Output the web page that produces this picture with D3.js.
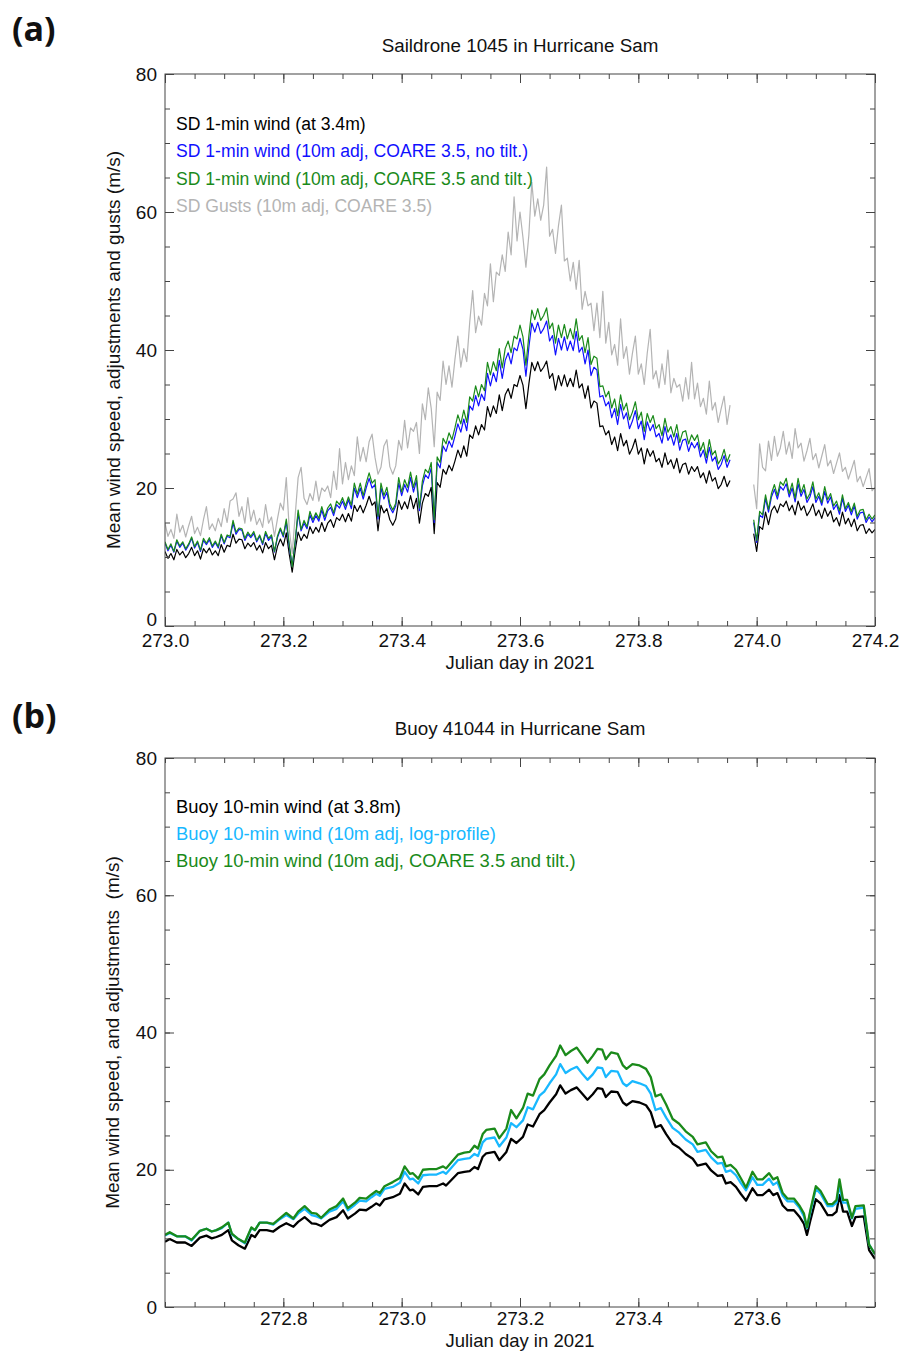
<!DOCTYPE html>
<html>
<head>
<meta charset="utf-8">
<script src="https://cdn.jsdelivr.net/npm/d3@7"></script>
<style>
  body { margin: 0; background: #fff; }
  text { font-family: "Liberation Sans", Helvetica, Arial, sans-serif; }
</style>
</head>
<body>
<svg id="fig" width="903" height="1351"></svg>
<script>
// ---- (a) Saildrone 1045, 1-min data, one value every 0.005 day from 273.000, null = gap
const sdStart = 273.0
const sdStep = 0.005
const sdRaw = [
  10.8, 9.8, 10.5, 9.6, 11.1, 10.3, 10.8, 9.9, 10.5, 11.4,
  10.2, 10.9, 9.7, 11.2, 10.6, 11.3, 10.3, 10.9, 10.2, 11.8,
  10.7, 11.7, 11.5, 13.3, 12.0, 12.6, 12.5, 11.2, 12.0, 11.5,
  12.1, 11.0, 11.7, 10.6, 12.1, 11.2, 11.7, 9.6, 11.5, 12.6,
  11.6, 13.5, 10.4, 7.8, 10.9, 13.6, 12.4, 13.3, 12.7, 14.4,
  13.4, 14.3, 13.6, 15.0, 13.7, 14.9, 15.4, 14.3, 15.7, 15.3,
  16.2, 15.1, 16.3, 15.2, 17.5, 16.6, 17.5, 16.4, 17.5, 18.8,
  17.5, 18.0, 13.8, 17.5, 16.4, 17.0, 15.4, 14.6, 15.5, 18.2,
  16.9, 18.0, 17.0, 18.9, 17.0, 18.5, 14.9, 17.8, 19.2, 18.8,
  20.1, 13.4, 20.8, 20.1, 22.7, 22.0, 23.3, 22.5, 23.9, 25.5,
  24.4, 26.1, 24.6, 27.7, 27.2, 29.0, 27.7, 29.2, 28.4, 31.8,
  30.3, 31.9, 30.8, 33.5, 31.2, 33.5, 34.4, 33.0, 35.0, 34.7,
  36.3, 34.9, 31.5, 35.1, 38.2, 37.0, 38.3, 36.9, 37.5, 38.4,
  35.9, 36.6, 34.2, 36.3, 34.8, 36.4, 34.7, 35.9, 34.7, 37.1,
  34.5, 35.1, 33.0, 34.8, 31.6, 32.6, 32.3, 28.9, 29.0, 27.7,
  28.3, 26.3, 27.4, 25.4, 27.9, 26.1, 26.9, 24.9, 25.8, 27.1,
  24.9, 25.8, 23.5, 25.7, 24.6, 25.4, 23.8, 24.3, 23.0, 25.1,
  23.4, 24.1, 22.8, 24.3, 22.2, 23.4, 23.6, 22.0, 23.1, 22.4,
  23.1, 21.5, 22.2, 20.7, 22.5, 21.0, 21.5, 19.9, 20.5, 21.7,
  20.2, 21.1,
  null, null, null, null, null, null, null,
  13.4, 10.8, 14.4, 14.0, 16.5, 14.7, 16.7, 17.4, 16.4, 17.7,
  17.3, 18.1, 16.7, 17.5, 16.1, 18.1, 16.8, 17.4, 16.0, 16.7,
  17.7, 16.0, 16.8, 15.6, 17.1, 15.9, 16.7, 15.1, 15.7, 14.5,
  16.5, 14.8, 15.6, 14.4, 15.5, 13.8, 14.6, 14.7, 13.4, 14.1,
  13.5, 14.0
]
const sdNoTilt = [
  12.0, 10.9, 11.7, 10.7, 12.3, 11.4, 12.0, 11.0, 11.7, 12.7,
  11.3, 12.1, 10.8, 12.4, 11.8, 12.5, 11.4, 12.1, 11.3, 13.1,
  11.9, 13.0, 12.8, 14.9, 13.3, 14.0, 13.9, 12.4, 13.3, 12.8,
  13.4, 12.2, 13.0, 11.8, 13.4, 12.4, 13.0, 10.7, 12.8, 14.0,
  12.9, 15.1, 11.5, 8.7, 12.1, 16.3, 13.8, 14.9, 14.1, 16.1,
  15.0, 16.0, 15.2, 16.8, 15.3, 16.7, 17.2, 16.0, 17.6, 17.1,
  18.1, 16.9, 18.3, 17.0, 20.0, 18.6, 20.0, 18.4, 20.0, 21.4,
  20.0, 20.5, 15.5, 20.0, 18.4, 19.4, 17.2, 16.4, 17.4, 20.7,
  18.9, 20.5, 19.4, 21.5, 19.4, 21.1, 16.7, 20.3, 21.9, 21.4,
  22.9, 15.0, 23.7, 22.9, 26.1, 25.3, 26.8, 25.9, 27.5, 29.3,
  28.1, 30.0, 28.3, 31.9, 31.3, 33.4, 31.9, 33.6, 32.7, 36.6,
  34.8, 36.7, 35.4, 38.5, 35.9, 38.5, 39.6, 38.0, 40.3, 39.9,
  41.7, 40.1, 36.2, 40.4, 43.9, 42.6, 44.0, 42.4, 43.1, 44.2,
  41.3, 42.1, 39.3, 41.7, 40.0, 41.9, 39.9, 41.3, 39.9, 42.7,
  39.7, 40.4, 38.0, 40.0, 36.3, 37.5, 37.1, 33.2, 33.4, 31.9,
  32.5, 30.2, 31.5, 29.2, 32.1, 30.0, 30.9, 28.6, 29.7, 31.2,
  28.6, 29.7, 27.0, 29.6, 28.3, 29.2, 27.4, 27.9, 26.5, 28.9,
  26.9, 27.7, 26.2, 27.9, 25.5, 26.9, 27.1, 25.3, 26.6, 25.8,
  26.6, 24.5, 25.5, 23.6, 25.9, 23.9, 24.5, 22.7, 23.4, 24.7,
  23.0, 24.1,
  null, null, null, null, null, null, null,
  15.0, 12.1, 16.1, 15.7, 18.5, 16.5, 18.7, 19.8, 18.4, 20.2,
  19.7, 20.6, 18.7, 20.0, 18.0, 20.6, 18.8, 19.8, 17.9, 18.7,
  20.2, 17.9, 18.8, 17.5, 19.5, 17.8, 18.7, 16.9, 17.6, 16.2,
  18.5, 16.6, 17.5, 16.1, 17.4, 15.5, 16.4, 16.5, 15.0, 15.8,
  15.1, 15.7
]
const sdTilt = [
  12.2, 11.1, 11.9, 10.8, 12.5, 11.6, 12.2, 11.2, 11.9, 12.9,
  11.5, 12.3, 11.0, 12.7, 12.0, 12.8, 11.6, 12.3, 11.5, 13.3,
  12.1, 13.2, 13.0, 15.3, 13.6, 14.2, 14.1, 12.7, 13.6, 13.0,
  13.7, 12.4, 13.2, 12.0, 13.7, 12.7, 13.2, 10.8, 13.0, 14.2,
  13.1, 15.5, 11.8, 8.6, 12.3, 16.8, 14.0, 15.3, 14.4, 16.6,
  15.4, 16.4, 15.6, 17.3, 15.8, 17.1, 17.7, 16.4, 18.1, 17.6,
  18.6, 17.4, 18.7, 17.5, 20.7, 19.1, 20.7, 18.9, 20.7, 22.2,
  20.7, 21.2, 15.9, 20.7, 18.9, 20.1, 17.7, 16.8, 17.8, 21.5,
  19.4, 21.2, 20.1, 22.3, 20.1, 21.8, 17.1, 21.0, 22.7, 22.2,
  23.7, 15.4, 24.5, 23.7, 27.2, 26.4, 28.0, 27.0, 28.7, 30.6,
  29.3, 31.3, 29.5, 33.2, 32.6, 34.8, 33.2, 35.0, 34.1, 38.2,
  36.4, 38.3, 37.0, 40.2, 37.4, 40.2, 41.3, 39.6, 42.0, 41.6,
  43.6, 41.9, 37.8, 42.1, 45.8, 44.4, 46.0, 44.3, 45.0, 46.1,
  43.1, 43.9, 41.0, 43.6, 41.8, 43.7, 41.6, 43.1, 41.6, 44.5,
  41.4, 42.1, 39.6, 41.8, 37.9, 39.1, 38.8, 34.7, 34.8, 33.2,
  34.0, 31.6, 32.9, 30.5, 33.5, 31.3, 32.3, 29.9, 31.0, 32.5,
  29.9, 31.0, 28.2, 30.8, 29.5, 30.5, 28.6, 29.2, 27.6, 30.1,
  28.1, 28.9, 27.4, 29.2, 26.6, 28.1, 28.3, 26.4, 27.7, 26.9,
  27.7, 25.4, 26.6, 24.4, 27.0, 24.8, 25.4, 23.5, 24.2, 25.6,
  23.8, 24.9,
  null, null, null, null, null, null, null,
  15.4, 12.4, 16.6, 16.1, 19.0, 16.9, 19.2, 20.5, 18.9, 20.9,
  20.4, 21.4, 19.2, 20.7, 18.5, 21.4, 19.3, 20.5, 18.4, 19.2,
  20.9, 18.4, 19.3, 17.9, 20.2, 18.3, 19.2, 17.4, 18.1, 16.7,
  19.0, 17.0, 17.9, 16.6, 17.8, 15.9, 16.8, 16.9, 15.4, 16.2,
  15.5, 16.1
]
const sdGust = [
  14.9, 13.0, 14.0, 12.7, 16.2, 13.6, 14.6, 12.9, 14.5, 15.9,
  13.4, 14.3, 13.1, 15.4, 17.3, 14.0, 14.8, 13.8, 15.6, 14.4,
  17.0, 15.0, 18.1, 18.4, 19.3, 15.9, 17.3, 14.9, 18.6, 15.2,
  16.8, 14.7, 15.6, 14.3, 17.6, 14.9, 15.8, 13.0, 15.5, 17.8,
  16.8, 21.5, 14.0, 10.5, 16.0, 21.5, 23.0, 18.5, 17.6, 19.2,
  18.2, 21.0, 18.1, 20.0, 19.5, 20.3, 18.6, 22.4, 19.8, 25.7,
  20.6, 23.7, 21.2, 23.2, 21.8, 27.4, 23.9, 25.9, 23.8, 26.7,
  27.8, 24.4, 22.0, 23.0, 26.1, 27.0, 23.1, 22.0, 23.2, 26.9,
  25.5, 29.8, 25.8, 28.7, 28.2, 29.5, 25.0, 32.2, 29.9, 34.5,
  31.5, 26.0, 33.9, 32.7, 38.4, 35.0, 37.7, 34.6, 38.6, 42.0,
  37.5, 40.2, 38.3, 44.0, 48.6, 42.5, 44.9, 43.6, 48.2, 46.4,
  52.5, 47.0, 51.3, 50.8, 53.8, 51.4, 57.1, 53.8, 62.2, 55.8,
  60.0, 56.3, 52.0, 56.7, 64.3, 59.4, 61.9, 58.8, 61.0, 66.5,
  56.5, 57.5, 54.0, 58.0, 61.0, 52.9, 53.3, 50.0, 52.7, 48.8,
  53.0, 45.9, 48.5, 46.4, 46.8, 42.8, 46.8, 41.8, 48.5, 41.0,
  44.0, 39.3, 40.8, 37.8, 44.5, 38.8, 40.5, 36.5, 39.5, 42.0,
  36.5, 38.0, 35.0, 39.5, 43.0, 35.8, 37.0, 34.5, 38.0, 35.0,
  40.0, 33.8, 35.9, 34.6, 35.0, 32.6, 36.0, 32.9, 38.2, 32.9,
  35.2, 31.8, 33.0, 30.7, 35.5, 31.3, 32.4, 29.5, 31.5, 33.3,
  29.2, 32.0,
  null, null, null, null, null, null, null,
  20.5, 17.0, 26.4, 23.0, 22.5, 26.8, 24.0, 27.5, 24.6, 25.8,
  28.2, 24.9, 26.7, 24.3, 28.6, 25.8, 26.5, 23.9, 25.4, 27.2,
  24.1, 25.0, 22.9, 24.6, 26.3, 23.2, 24.0, 22.1, 23.6, 25.1,
  22.4, 23.0, 21.3, 22.6, 24.0, 20.9, 21.7, 20.2, 21.5, 22.8,
  19.6, 20.1
]
const sdXTicks = [273.0, 273.2, 273.4, 273.6, 273.8, 274.0, 274.2]

// ---- (b) Buoy 41044, 10-min data
const buoyDay = [
  272.600, 272.608, 272.620, 272.634, 272.645, 272.659, 272.670, 272.679, 272.687, 272.696,
  272.707, 272.713, 272.724, 272.735, 272.746, 272.752, 272.760, 272.772, 272.783, 272.794,
  272.805, 272.817, 272.825, 272.836, 272.848, 272.856, 272.864, 272.878, 272.890, 272.901,
  272.909, 272.921, 272.929, 272.940, 272.949, 272.957, 272.963, 272.971, 272.985, 272.997,
  273.005, 273.014, 273.019, 273.028, 273.036, 273.047, 273.059, 273.070, 273.075, 273.084,
  273.095, 273.106, 273.115, 273.123, 273.129, 273.137, 273.143, 273.157, 273.165, 273.177,
  273.185, 273.194, 273.205, 273.213, 273.222, 273.233, 273.241, 273.250, 273.261, 273.268,
  273.277, 273.286, 273.296, 273.306, 273.314, 273.323, 273.331, 273.339, 273.345, 273.354,
  273.365, 273.374, 273.380, 273.390, 273.402, 273.413, 273.421, 273.429, 273.438, 273.447,
  273.458, 273.469, 273.480, 273.492, 273.500, 273.514, 273.523, 273.534, 273.542, 273.548,
  273.556, 273.565, 273.573, 273.582, 273.593, 273.601, 273.610, 273.621, 273.628, 273.635,
  273.644, 273.652, 273.663, 273.672, 273.680, 273.685, 273.691, 273.700, 273.708, 273.720,
  273.728, 273.735, 273.740, 273.746, 273.753, 273.761, 273.767, 273.781, 273.790, 273.800
]
const buoyRaw = [
  9.5, 9.9, 9.4, 9.4, 8.9, 10.1, 10.4, 10.0, 10.2, 10.5,
  11.2, 9.7, 9.0, 8.5, 10.5, 10.2, 11.2, 11.2, 11.0, 11.7,
  12.2, 11.7, 12.4, 13.1, 12.2, 12.1, 11.8, 12.7, 13.1, 14.1,
  12.9, 13.6, 14.2, 14.1, 14.6, 15.1, 14.8, 15.7, 16.0, 16.5,
  18.0, 17.0, 17.1, 16.4, 17.5, 17.6, 17.6, 18.0, 17.7, 18.5,
  19.5, 19.7, 19.8, 20.4, 20.1, 21.9, 22.4, 22.6, 21.4, 22.6,
  24.5, 23.9, 24.8, 26.6, 26.3, 28.1, 28.7, 29.8, 31.0, 32.3,
  31.1, 31.6, 32.0, 31.0, 30.2, 31.0, 31.9, 31.8, 30.6, 31.4,
  31.3, 29.8, 29.4, 30.0, 29.8, 29.4, 28.4, 26.2, 26.5, 25.2,
  23.8, 23.2, 22.3, 21.6, 20.6, 20.9, 19.9, 19.1, 19.2, 18.0,
  18.2, 17.5, 16.5, 15.5, 17.3, 16.3, 16.3, 17.1, 16.3, 16.6,
  14.8, 14.1, 14.1, 13.2, 12.1, 10.5, 12.7, 15.7, 15.1, 13.4,
  13.4, 13.9, 16.3, 13.9, 13.9, 11.8, 13.1, 13.2, 8.3, 7.0
]
const buoyLog = [
  10.4, 10.8, 10.3, 10.3, 9.7, 11.1, 11.4, 11.0, 11.2, 11.5,
  12.3, 10.6, 9.9, 9.3, 11.5, 11.2, 12.3, 12.3, 12.0, 12.8,
  13.4, 12.8, 13.6, 14.3, 13.4, 13.2, 12.9, 13.9, 14.3, 15.4,
  14.1, 14.9, 15.5, 15.4, 16.0, 16.5, 16.2, 17.2, 17.5, 18.1,
  19.7, 18.6, 18.7, 18.0, 19.2, 19.3, 19.3, 19.7, 19.4, 20.3,
  21.4, 21.6, 21.7, 22.3, 22.0, 24.0, 24.5, 24.7, 23.4, 24.7,
  26.8, 26.2, 27.2, 29.1, 28.8, 30.8, 31.4, 32.6, 33.9, 35.4,
  34.1, 34.6, 35.0, 33.9, 33.1, 33.9, 34.9, 34.8, 33.5, 34.4,
  34.3, 32.6, 32.2, 32.9, 32.6, 32.2, 31.1, 28.7, 29.0, 27.6,
  26.1, 25.4, 24.4, 23.7, 22.6, 22.9, 21.8, 20.9, 21.0, 19.7,
  19.9, 19.2, 18.1, 17.0, 18.9, 17.8, 17.8, 18.7, 17.8, 18.2,
  16.2, 15.4, 15.4, 14.5, 13.2, 11.5, 13.9, 17.2, 16.5, 14.7,
  14.7, 15.2, 17.8, 15.2, 15.2, 12.9, 14.3, 14.5, 9.1, 7.7
]
const buoyCoare = [
  10.5, 10.9, 10.3, 10.3, 9.8, 11.1, 11.4, 11.0, 11.2, 11.6,
  12.3, 10.7, 9.9, 9.4, 11.6, 11.2, 12.3, 12.3, 12.1, 12.9,
  13.7, 12.9, 13.9, 14.7, 13.7, 13.6, 13.0, 14.2, 14.7, 15.8,
  14.4, 15.2, 15.9, 15.8, 16.4, 16.9, 16.6, 17.6, 18.2, 18.8,
  20.5, 19.4, 19.5, 18.7, 20.0, 20.1, 20.1, 20.5, 20.2, 21.1,
  22.2, 22.5, 22.6, 23.5, 23.1, 25.2, 25.8, 26.0, 24.6, 26.0,
  28.7, 27.5, 29.0, 31.1, 30.8, 33.2, 33.9, 35.2, 36.6, 38.1,
  36.7, 37.3, 37.8, 36.6, 35.6, 36.6, 37.6, 37.5, 36.1, 37.1,
  36.9, 35.2, 34.7, 35.4, 35.2, 34.7, 33.5, 30.7, 31.0, 29.5,
  27.4, 26.7, 25.6, 24.8, 23.7, 24.0, 22.7, 21.8, 21.9, 20.5,
  20.7, 20.0, 18.8, 17.4, 19.7, 18.6, 18.6, 19.5, 18.6, 18.9,
  16.6, 15.8, 15.8, 14.8, 13.6, 11.6, 14.2, 17.6, 16.9, 15.0,
  15.0, 15.6, 18.6, 15.6, 15.6, 13.0, 14.7, 14.8, 9.1, 7.7
]
const buoyXTicks = [272.8, 273.0, 273.2, 273.4, 273.6]

const yTicks = [0, 20, 40, 60, 80]

const sdDays = sdRaw.map((v, i) => sdStart + i * sdStep)

const svg = d3.select('#fig')
svg.append('rect').attr('width', 903).attr('height', 1351).attr('fill', '#fff')

function drawPanel(p) {
    const x = d3.scaleLinear().domain(p.xDomain).range([p.left, p.right])
    const y = d3.scaleLinear().domain([0, 80]).range([p.bottom, p.top])
    const g = svg.append('g')

    g.append('clipPath').attr('id', p.id + '-clip')
        .append('rect')
        .attr('x', p.left).attr('y', p.top)
        .attr('width', p.right - p.left).attr('height', p.bottom - p.top)

    // series
    const plot = g.append('g').attr('clip-path', `url(#${p.id}-clip)`)
    p.series.forEach(s => {
        const line = d3.line()
            .defined(d => d[1] != null)
            .x(d => x(d[0]))
            .y(d => y(d[1]))
        plot.append('path')
            .datum(s.values.map((v, i) => [p.days[i], v]))
            .attr('d', line)
            .style('fill', 'none')
            .style('stroke', s.color)
            .style('stroke-width', p.lineWidth)
            .style('stroke-linejoin', 'round')
    })

    // ticks on all four sides, pointing inward
    const xMinor = d3.range(0, 25).map(k => +(p.xDomain[0] + k * 0.05).toFixed(2))
    const yMinor = d3.range(0, 81, 5)
    const fmt = d3.format('.1f')
    const axes = [
        [d3.axisBottom(x).tickValues(xMinor).tickSize(-5).tickFormat(''), `translate(0,${p.bottom})`],
        [d3.axisBottom(x).tickValues(p.xTicks).tickSize(-9).tickPadding(p.xPad).tickFormat(fmt), `translate(0,${p.bottom})`],
        [d3.axisTop(x).tickValues(xMinor).tickSize(-5).tickFormat(''), `translate(0,${p.top})`],
        [d3.axisTop(x).tickValues(p.xTicks).tickSize(-9).tickFormat(''), `translate(0,${p.top})`],
        [d3.axisLeft(y).tickValues(yMinor).tickSize(-5).tickFormat(''), `translate(${p.left},0)`],
        [d3.axisLeft(y).tickValues(yTicks).tickSize(-9).tickPadding(8), `translate(${p.left},0)`],
        [d3.axisRight(y).tickValues(yMinor).tickSize(-5).tickFormat(''), `translate(${p.right},0)`],
        [d3.axisRight(y).tickValues(yTicks).tickSize(-9).tickFormat(''), `translate(${p.right},0)`]
    ]
    axes.forEach(([ax, tr], k) => {
        const a = g.append('g').attr('transform', tr).call(ax)
        a.select('.domain').remove()
        a.selectAll('line').style('stroke', '#444')
        a.selectAll('text')
            .style('font-family', '"Liberation Sans", Helvetica, Arial, sans-serif')
            .style('font-size', '19px')
            .style('fill', '#111')
        // the "0" sits just above the first x label in the corner
        if (k === 5 && p.zeroUp) a.selectAll('text').filter(d => d === 0).attr('dy', '-0.05em')
    })

    g.append('rect')
        .attr('x', p.left).attr('y', p.top)
        .attr('width', p.right - p.left).attr('height', p.bottom - p.top)
        .style('fill', 'none')
        .style('stroke', '#444')
        .style('stroke-width', 1)

    // texts
    g.append('text')
        .attr('x', (p.left + p.right) / 2).attr('y', p.titleY)
        .attr('text-anchor', 'middle')
        .style('font-size', '18.8px').style('fill', '#111')
        .text(p.title)
    g.append('text')
        .attr('x', (p.left + p.right) / 2).attr('y', p.xLabelY)
        .attr('text-anchor', 'middle')
        .style('font-size', '18.5px').style('fill', '#111')
        .text('Julian day in 2021')
    g.append('text')
        .attr('transform', `translate(${p.yLabelX},${(p.top + p.bottom) / 2}) rotate(-90)`)
        .attr('text-anchor', 'middle')
        .style('font-size', '19px').style('fill', '#111')
        .style('white-space', 'pre')
        .text(p.yLabel)
    g.append('text')
        .attr('x', 12).attr('y', p.letterY)
        .style('font-family', '"Open Sans", "DejaVu Sans", sans-serif')
        .style('font-weight', 'bold')
        .style('font-size', '34px').style('fill', '#111')
        .text(p.letter)

    p.series.slice().sort((a, b) => a.order - b.order).forEach((s, k) => {
        g.append('text')
            .attr('x', p.left + 11).attr('y', p.legendY + k * p.legendStep)
            .style('font-size', p.legendSize).style('fill', s.color)
            .text(s.name)
    })
}

drawPanel({
    id: 'sd', letter: '(a)', letterY: 41,
    left: 165, right: 875, top: 74, bottom: 626,
    xDomain: [273.0, 274.2], xTicks: sdXTicks, xPad: 8, zeroUp: true,
    days: sdDays, lineWidth: 1.2,
    title: 'Saildrone 1045 in Hurricane Sam', titleY: 52,
    xLabelY: 669, yLabelX: 120,
    yLabel: 'Mean wind speed, adjustments and gusts (m/s)',
    legendY: 130, legendStep: 27.4, legendSize: '17.6px',
    series: [
        { name: 'SD Gusts (10m adj, COARE 3.5)', values: sdGust, color: '#b4b4b4', order: 3 },
        { name: 'SD 1-min wind (at 3.4m)', values: sdRaw, color: '#000000', order: 0 },
        { name: 'SD 1-min wind (10m adj, COARE 3.5, no tilt.)', values: sdNoTilt, color: '#1010ff', order: 1 },
        { name: 'SD 1-min wind (10m adj, COARE 3.5 and tilt.)', values: sdTilt, color: '#1a8a1a', order: 2 }
    ]
})

drawPanel({
    id: 'buoy', letter: '(b)', letterY: 728,
    left: 165, right: 875, top: 758, bottom: 1307,
    xDomain: [272.6, 273.8], xTicks: buoyXTicks, xPad: 5, zeroUp: false,
    days: buoyDay, lineWidth: 2.3,
    title: 'Buoy 41044 in Hurricane Sam', titleY: 735,
    xLabelY: 1346.5, yLabelX: 119,
    yLabel: 'Mean wind speed, and adjustments  (m/s)',
    legendY: 813, legendStep: 27, legendSize: '18.4px',
    series: [
        { name: 'Buoy 10-min wind (at 3.8m)', values: buoyRaw, color: '#000000', order: 0 },
        { name: 'Buoy 10-min wind (10m adj, log-profile)', values: buoyLog, color: '#18b8ff', order: 1 },
        { name: 'Buoy 10-min wind (10m adj, COARE 3.5 and tilt.)', values: buoyCoare, color: '#1a8a1a', order: 2 }
    ]
})
</script>
</body>
</html>
